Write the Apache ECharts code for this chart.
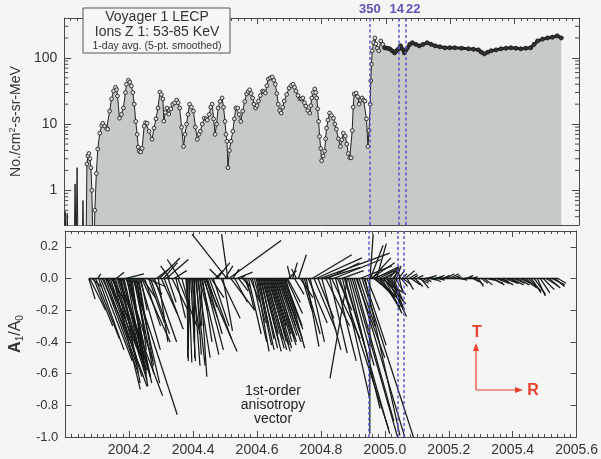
<!DOCTYPE html>
<html><head><meta charset="utf-8">
<script src="https://cdn.jsdelivr.net/npm/echarts@6/dist/echarts.min.js"></script>
<style>html,body{margin:0;padding:0;background:#f5f5f3}#c{width:601px;height:459px}</style>
</head><body><div id="c"></div>
<script>
// ---------- DATA ----------
// Flux: day counted from 2004-01-01 (day 0), values in No./cm^2-s-sr-MeV
const fluxDay = [0.5,1.1,2.2,3.4,4.5,11.2,12.3,13.5,14.6,15.7,20.2,21.3,22.4,24.7,25.8,26.9,28.0,29.2,30.3,31.4,32.5,33.7,34.8,36.5,38.1,40.4,42.6,43.7,46.0,48.2,49.4,51.6,53.8,56.1,58.3,59.5,60.6,62.8,65.0,67.3,69.6,70.7,72.9,74.6,76.3,78.0,79.6,81.3,83.0,84.1,85.3,86.9,88.6,90.9,92.5,94.2,96.5,99.8,102.1,104.3,106.6,108.8,110.5,112.2,113.3,115.0,116.7,118.9,121.2,123.4,125.7,127.9,129.6,131.3,133.5,135.7,137.4,139.1,140.8,142.5,144.7,147.0,149.2,151.4,153.1,154.8,157.0,159.3,161.5,162.7,164.9,166.6,168.3,169.9,171.6,173.3,175.0,177.2,179.5,181.2,182.9,184.0,185.1,186.2,187.9,189.6,191.8,193.5,195.2,197.4,199.1,200.8,203.0,205.3,207.5,209.2,210.9,212.6,214.3,215.9,217.6,219.3,221.0,223.2,225.5,227.1,228.8,230.5,232.2,234.5,236.7,238.4,240.1,241.8,243.5,245.1,246.8,248.5,250.2,253.0,255.8,258.0,260.3,262.0,263.6,265.9,268.1,269.8,271.5,273.2,274.8,277.1,279.3,280.5,281.6,283.3,284.9,286.1,287.2,288.3,289.4,290.5,291.7,292.8,294.5,296.2,297.3,298.4,300.1,301.8,304.0,306.3,307.9,309.6,311.9,314.1,315.8,317.5,319.7,321.4,323.1,324.8,326.4,327.6,328.7,329.8,332.0,333.7,335.4,337.1,338.8,340.5,342.1,343.8,345.5,346.7,348.0,348.7,349.5,350.3,352.0,353.4,354.5,356.2,357.9,360.1,362.3,364.6,367.4,370.2,373.0,375.8,378.0,380.3,382.5,384.8,387.0,388.7,390.4,393.2,396.0,399.9,403.9,408.3,412.8,417.3,421.8,427.4,433.0,438.6,444.2,452.1,459.9,465.6,471.2,474.5,477.9,481.8,485.7,491.3,496.9,502.6,508.2,513.8,519.4,525.0,530.6,534.5,538.5,544.1,549.7,555.3,560.9,565.4];
const fluxValue = [0.1,0.48,0.1,0.45,0.1,0.1,1.25,0.1,2.2,0.1,0.1,0.7,0.1,0.1,2.5,3.3,3.6,3.0,2.2,1.0,0.2,0.1,0.5,1.8,4.2,7.3,9.5,10.3,9.3,8.6,8.4,15.7,24,31.6,36,33,26.6,12.3,14,17.5,30,40,46,43,37.7,30,20,11,7,4.5,3.9,3.8,4.3,9.3,10.5,10.3,7.8,5.9,8.7,12,17.5,30.5,28,24,11.1,15,17.5,14.2,17,20,21,23,21,17.5,9,4.6,7,10,14,20,18,15.7,9,5.9,7,7.8,10,12.3,12,11.5,14,18,20,12,7,10,17.5,22,24.8,18,11,7,5.5,2.2,4,5.5,7.8,12,17.5,17.5,14,11,15.7,22,28.5,31,33,29,24.8,20,17.5,19,22.3,27,31.6,31,29.5,38,48,50,51.5,46,40,29,20,16,14.7,18,22.3,28,35,38,40,36,31.6,27,24,24,24.8,21,18.7,16,14.7,19,24.8,30,34,30,24.8,17,11,6.5,4.3,2.8,3.3,3.9,6,8.7,11.5,14.7,13.5,12.3,10,8.4,6,4.6,5.8,7.3,6.6,5,3.6,3.1,3.1,8,18,28.5,29.5,26,20,23,24.8,23,22.3,12,4.6,8,20,45,80,128,170,200,163,140,128,180,160,142,140,137,128,119,128,137,152,135,119,130,142,160,169,160,152,160,169,160,152,147,142,142,142,140,137,135,132,122,115,122,128,132,137,140,142,140,137,140,142,160,180,192,200,205,215,200];
const denseFromDay = 364.6;   // after this the 1-day points merge into a thick trace
const markerFromDay = 25;     // earliest spikes have no point markers

// Anisotropy vectors: start day, radial (R) and tangential (T) components of A1/A0
const vecDay = [
 26.9,28.0,30.3,32.5,34.8,37.0,38.1,40.4,42.6,43.8,46.0,47.1,48.2,49.4,51.6,52.7,53.8,55.0,56.1,57.2,58.3,59.5,60.6,61.7,62.8,63.9,65.1,66.2,67.3,68.4,69.6,70.7,71.8,72.9,74.0,75.2,76.3,77.4,78.5,79.6,80.8,81.9,83.0,84.1,85.3,86.4,87.5,88.6,90.9,93.1,
 95.4,97.6,99.8,102.1,104.3,106.6,107.7,109.9,112.2,113.3,115.5,117.8,120.0,122.3,124.5,126.8,129.0,131.3,133.5,
 138.0,139.1,140.2,141.3,142.5,143.6,144.7,145.8,147.0,148.1,149.2,150.3,151.4,152.6,153.7,154.8,155.9,157.1,158.2,159.3,160.4,161.5,162.7,164.9,167.1,169.4,171.6,173.9,176.1,178.4,180.6,182.9,185.1,186.2,187.3,189.6,191.8,194.1,196.3,198.6,200.8,203.0,
 205.3,207.5,209.8,212.0,214.3,216.5,218.8,219.9,221.0,222.1,223.2,224.4,225.5,226.6,227.7,228.8,230.0,231.1,232.2,233.3,234.5,235.6,236.7,237.8,238.9,240.1,241.2,242.3,243.4,244.6,245.7,246.8,247.9,249.0,250.2,251.3,252.4,253.5,254.6,255.8,258.0,260.3,262.5,264.7,267.0,269.2,
 271.5,273.7,276.0,278.2,280.5,282.7,284.9,287.2,289.4,291.7,293.9,296.2,298.4,300.6,302.9,305.1,307.4,309.6,311.9,314.1,316.3,317.5,319.7,320.8,323.1,324.2,326.4,328.7,330.9,333.2,334.3,336.5,337.7,339.9,342.1,343.3,345.5,348.8,349.0,349.5,350.0,351.1,352.2,
 353.4,354.5,355.6,356.7,357.9,359.0,360.1,361.2,362.3,363.5,364.6,365.7,366.8,367.9,369.1,370.2,371.3,372.4,373.6,374.7,375.8,376.9,378.0,
 379.2,380.3,381.4,382.5,383.7,384.8,385.9,387.0,
 389.3,391.5,393.7,396.0,398.2,400.5,402.7,405.0,407.2,409.5,411.7,413.9,416.2,418.4,420.7,422.9,425.2,427.4,
 429.6,433.0,436.4,439.7,443.1,446.5,449.8,453.2,456.6,459.9,463.3,466.7,470.0,473.4,476.8,480.1,483.5,486.9,490.2,493.6,497.0,500.3,503.7,507.1,510.4,513.8,517.1,520.5,523.9,527.2,530.6,534.0,537.3,540.7,544.1,547.4,550.8,554.2,557.5,560.9,564.3];
const vecR = [
 0.04,0.10,0.06,0.12,0.15,0.02,0.16,0.20,0.18,0.22,0.20,0.12,0.25,0.18,0.20,0.09,0.22,0.17,0.14,0.20,0.05,0.17,0.28,0.13,0.19,0.12,0.16,0.10,0.14,0.12,0.17,0.11,0.15,0.09,0.13,0.08,0.10,0.28,0.07,0.12,0.15,0.06,0.10,0.05,0.13,0.04,0.18,0.08,0.10,0.12,
 0.10,0.12,0.06,0.14,0.08,0.06,0.13,0.10,0.09,0.12,0.14,0.05,-0.06,0.10,0.08,0.06,0.12,-0.08,0.05,
 0.03,0.01,0.00,0.02,-0.01,0.03,0.05,0.01,0.04,0.00,0.06,0.03,0.08,0.02,0.05,0.04,0.11,0.06,0.09,0.12,0.20,0.10,0.06,0.14,0.08,0.10,0.05,0.08,-0.06,0.12,0.06,0.05,-0.22,-0.04,0.33,0.15,0.04,0.08,0.10,0.06,0.03,0.05,
 0.04,0.05,0.08,0.06,0.09,0.07,0.08,0.09,0.10,0.06,0.11,0.08,0.12,0.10,0.09,0.12,0.13,0.10,0.14,0.11,0.12,0.13,0.09,0.12,0.14,0.10,0.13,0.11,0.12,0.14,0.10,0.12,0.13,0.09,0.12,0.11,0.12,0.10,0.08,0.05,-0.02,0.03,0.06,-0.03,0.05,0.08,
 0.06,0.10,0.08,0.12,0.09,0.25,0.14,0.29,0.10,0.44,0.12,0.23,0.15,0.20,0.11,0.18,0.30,0.13,0.09,0.31,0.14,0.17,0.12,0.28,-0.11,0.20,0.15,0.30,0.25,0.18,0.33,0.10,0.20,0.35,0.14,0.22,0.08,0.00,0.02,0.08,0.15,0.12,0.16,
 0.10,0.14,0.12,0.06,0.15,0.10,0.13,0.16,0.12,0.08,0.14,0.11,0.09,0.10,0.12,0.08,0.06,0.09,0.05,0.04,0.06,0.03,0.05,
 0.03,-0.03,0.04,0.02,-0.02,0.04,0.03,0.05,
 0.06,0.04,0.05,0.06,0.03,0.05,0.04,0.06,0.05,0.04,0.05,0.03,0.05,0.04,0.06,0.04,0.05,0.04,
 0.05,0.04,0.05,0.06,0.05,0.04,0.05,0.04,0.05,0.04,0.05,0.04,0.05,0.03,0.04,0.05,0.04,0.08,0.07,0.08,0.06,0.07,0.08,0.07,0.08,0.07,0.08,0.07,0.08,0.07,0.08,0.06,0.07,0.05,0.06,0.07,0.08,0.07,0.08,0.06,0.05];
const vecT = [
 -0.13,-0.20,-0.05,-0.30,-0.38,0.03,-0.45,-0.52,-0.40,-0.60,-0.55,-0.25,-0.68,-0.44,-0.62,-0.15,-0.58,-0.70,-0.50,-0.64,0.04,-0.56,-0.74,-0.48,-0.62,-0.66,-0.55,-0.45,-0.60,0.03,-0.52,-0.58,-0.66,-0.40,-0.62,-0.52,-0.68,-0.86,-0.35,-0.60,-0.66,-0.45,-0.55,-0.30,-0.45,-0.20,-0.40,-0.12,-0.30,-0.05,
 -0.28,-0.35,-0.10,-0.40,0.06,-0.40,0.13,-0.22,0.10,-0.32,0.12,-0.15,0.08,-0.20,0.05,-0.25,-0.30,0.12,-0.18,
 -0.30,-0.52,-0.50,-0.53,-0.45,-0.52,-0.35,-0.40,-0.55,-0.50,-0.55,-0.48,-0.50,-0.30,-0.20,-0.62,-0.48,-0.40,-0.25,-0.45,-0.46,-0.35,-0.18,-0.38,-0.12,-0.30,0.05,0.10,0.06,-0.25,-0.33,0.08,0.28,0.28,0.24,-0.20,0.06,-0.15,0.04,-0.08,0.02,-0.05,
 -0.10,-0.20,-0.35,-0.15,-0.40,-0.28,-0.46,-0.42,-0.45,-0.30,-0.44,-0.38,-0.46,-0.40,-0.35,-0.44,-0.45,-0.38,-0.46,-0.40,-0.42,-0.44,-0.30,-0.40,-0.42,-0.35,-0.40,-0.38,-0.36,-0.40,-0.30,-0.34,-0.38,-0.25,-0.32,-0.30,-0.44,-0.22,-0.15,0.05,0.08,0.10,-0.10,0.06,0.15,-0.12,
 -0.20,-0.35,-0.43,-0.28,-0.40,0.15,-0.33,0.13,-0.25,0.16,-0.45,0.07,-0.30,0.10,-0.47,-0.38,0.12,-0.52,-0.20,-0.95,0.05,-0.75,-0.40,-0.98,-0.63,-0.82,-0.55,-1.05,-0.90,-0.50,-1.10,-0.30,0.08,-1.08,-0.42,-0.99,-0.20,-0.98,0.28,0.21,0.10,0.13,0.06,
 -0.08,0.07,-0.12,0.22,-0.15,0.05,-0.18,-0.10,-0.20,0.04,-0.16,-0.22,0.06,-0.18,-0.24,-0.12,0.08,-0.20,-0.10,0.05,-0.14,0.07,-0.08,
 0.08,-0.06,0.05,-0.08,0.06,-0.05,0.03,-0.04,
 0.05,-0.07,0.03,-0.04,0.02,-0.05,0.02,-0.03,-0.06,-0.02,0.01,-0.02,0.02,-0.01,0.01,-0.02,0.02,-0.01,
 0.01,0.02,0.03,0.03,0.02,0.01,0.00,-0.01,0.01,0.02,0.01,-0.02,-0.04,-0.05,-0.03,-0.04,-0.01,-0.03,-0.04,-0.03,-0.02,-0.04,-0.03,-0.03,-0.04,-0.03,-0.04,-0.03,-0.05,-0.06,-0.08,-0.09,-0.10,-0.11,-0.09,-0.07,-0.05,-0.06,-0.04,-0.05,-0.03];

// Event markers (day-of-year labels) in decimal years
const eventYear = [2004.954, 2005.036, 2005.058];
const eventLabel = ['350', '14', '22'];
// Log-axis minor tick values
const logMinorTicks = [0.4,0.5,0.6,0.7,0.8,0.9,2,3,4,5,6,7,8,9,20,30,40,50,60,70,80,90,200,300];
const xMin = 2004.0, xMax = 2005.6, xStep = 0.2;
const fluxMin = 0.3, fluxMax = 400;
const anisoMin = -1.0, anisoMax = 0.3, anisoStep = 0.2;

// ---------- CHART ----------
const toYear = d => 2004 + d / 366;
const FONT = '"Liberation Sans", Arial, Helvetica, sans-serif';
const AX = '#4a4a4a';
const flux = fluxDay.map((d, i) => [toYear(d), fluxValue[i], d]);
const fluxB = flux.filter(p => p[2] >= denseFromDay);
const nVec = Math.min(vecDay.length, vecR.length, vecT.length);
const vectors = [];
for (let i = 0; i < nVec; i++) vectors.push([toYear(vecDay[i]), vecR[i], vecT[i]]);

const eventLineStyle = { color: '#5b58cf', width: 1.5, type: [3, 2.5] };
const labelOffsets = [[0, 0], [-2, 0], [8, 0]];

function xAxisDef(grid, pos, labels, ticks) {
  return {
    type: 'value', gridIndex: grid, position: pos, min: xMin, max: xMax, interval: xStep,
    axisLine: { show: true, onZero: false, lineStyle: { color: AX, width: 1 } },
    axisTick: { show: ticks, inside: true, length: 6, lineStyle: { color: AX } },
    minorTick: { show: ticks, splitNumber: 10, length: 3, lineStyle: { color: AX } },
    splitLine: { show: false },
    axisLabel: {
      show: labels, color: '#333', fontSize: 14, fontFamily: FONT, margin: 6,
      formatter: v => (Math.abs(v - xMin) < 1e-6 ? '' : v.toFixed(1))
    }
  };
}

const isDecade = v => Math.abs(Math.log10(v) - Math.round(Math.log10(v))) < 1e-6;

const option = {
  backgroundColor: '#f5f5f3',
  animation: false,
  grid: [
    { left: 57, right: 22, top: 18, height: 207 },
    { left: 57, right: 22, top: 231, height: 206 }
  ],
  xAxis: [
    xAxisDef(0, 'bottom', false, false),
    xAxisDef(0, 'top', false, true),
    xAxisDef(1, 'bottom', true, true),
    xAxisDef(1, 'top', false, true)
  ],
  yAxis: [
    {
      type: 'log', logBase: 10, gridIndex: 0, min: fluxMin, max: fluxMax, position: 'left',
      axisLine: { show: true, lineStyle: { color: AX } },
      axisTick: { show: true, inside: true, length: 7, lineStyle: { color: AX } },
      splitLine: { show: false },
      axisLabel: { color: '#333', fontSize: 14, fontFamily: FONT, margin: 7,
        formatter: v => (isDecade(v) ? String(Math.round(v)) : '') },
      name: 'No./cm{sup|2}-s-sr-MeV', nameLocation: 'middle', nameRotate: 90, nameGap: 32,
      nameTextStyle: { color: '#333', fontSize: 14, fontFamily: FONT,
        rich: { sup: { fontSize: 9, fontFamily: FONT, color: '#333', padding: [0, 0, 7, 0] } } }
    },
    {
      type: 'log', logBase: 10, gridIndex: 0, min: fluxMin, max: fluxMax, position: 'right',
      axisLine: { show: true, lineStyle: { color: AX } },
      axisTick: { show: true, inside: true, length: 7, lineStyle: { color: AX } },
      splitLine: { show: false }, axisLabel: { show: false }
    },
    {
      type: 'value', gridIndex: 1, min: anisoMin, max: anisoMax, interval: anisoStep, position: 'left',
      axisLine: { show: true, onZero: false, lineStyle: { color: AX } },
      axisTick: { show: true, inside: true, length: 6, lineStyle: { color: AX } },
      splitLine: { show: false },
      axisLabel: { color: '#333', fontSize: 13, fontFamily: FONT, margin: 7,
        formatter: v => (Math.abs(v * 5 - Math.round(v * 5)) < 1e-6 ? v.toFixed(1) : '') },
      name: '{b|A}{s|1}{n|/A}{s|0}', nameLocation: 'middle', nameRotate: 90, nameGap: 36,
      nameTextStyle: { color: '#333', fontFamily: FONT,
        rich: {
          b: { fontSize: 16, fontWeight: 'bold', fontFamily: FONT, color: '#333' },
          n: { fontSize: 16, fontFamily: FONT, color: '#333' },
          s: { fontSize: 10, fontFamily: FONT, color: '#333', padding: [8, 0, 0, 0] }
        } }
    },
    {
      type: 'value', gridIndex: 1, min: anisoMin, max: anisoMax, interval: anisoStep, position: 'right',
      axisLine: { show: true, onZero: false, lineStyle: { color: AX } },
      axisTick: { show: true, inside: true, length: 6, lineStyle: { color: AX } },
      splitLine: { show: false }, axisLabel: { show: false }
    }
  ],
  series: [
    {
      type: 'line', xAxisIndex: 0, yAxisIndex: 0, data: flux, clip: true,
      showAllSymbol: true, symbolSize: 3.8,
      symbol: (val) => (val[2] < markerFromDay || val[2] > denseFromDay || val[1] < fluxMin ? 'none' : 'circle'),
      itemStyle: { color: '#dcdedc', borderColor: '#222', borderWidth: 0.9 },
      lineStyle: { color: '#222', width: 1 },
      areaStyle: { color: '#c5cac6', opacity: 1, origin: 'start' },
      z: 3,
      markLine: {
        silent: true, symbol: 'none', lineStyle: eventLineStyle,
        label: { show: true, position: 'end', distance: 2, color: '#6152b8', fontWeight: 'bold',
          fontSize: 13, fontFamily: FONT },
        data: eventYear.map((x, i) => ({ xAxis: x, label: { formatter: eventLabel[i], offset: labelOffsets[i] } }))
      }
    },
    {
      type: 'line', xAxisIndex: 0, yAxisIndex: 0, data: fluxB, clip: true,
      showAllSymbol: true, symbol: 'circle', symbolSize: 4,
      itemStyle: { color: '#333', borderColor: '#222', borderWidth: 1 },
      lineStyle: { color: '#222', width: 3 },
      z: 4
    },
    {
      type: 'custom', xAxisIndex: 0, yAxisIndex: 0, clip: false, silent: true, z: 4,
      data: logMinorTicks.map(v => [xMin, v]),
      renderItem: (params, api) => {
        const cs = params.coordSys;
        const y = api.coord([xMin, api.value(1)])[1];
        return { type: 'group', children: [
          { type: 'line', shape: { x1: cs.x, y1: y, x2: cs.x + 4, y2: y }, style: { stroke: AX, lineWidth: 1 } },
          { type: 'line', shape: { x1: cs.x + cs.width, y1: y, x2: cs.x + cs.width - 4, y2: y }, style: { stroke: AX, lineWidth: 1 } }
        ] };
      }
    },
    {
      type: 'custom', xAxisIndex: 2, yAxisIndex: 2, clip: true, silent: true, z: 3,
      data: vectors,
      encode: { x: 0, y: 2 },
      renderItem: (params, api) => {
        const s = api.coord([api.value(0), 0]);
        const unit = api.size([0, 1])[1];
        return { type: 'line',
          shape: { x1: s[0], y1: s[1], x2: s[0] + api.value(1) * unit, y2: s[1] - api.value(2) * unit },
          style: { stroke: '#131a17', lineWidth: 1.25 } };
      }
    },
    {
      type: 'line', xAxisIndex: 2, yAxisIndex: 2, symbol: 'none', z: 4,
      data: [[vectors[0][0], 0], [vectors[nVec - 1][0], 0]],
      lineStyle: { color: '#131a17', width: 1.4 },
      markLine: {
        silent: true, symbol: 'none', lineStyle: eventLineStyle, label: { show: false },
        data: eventYear.map(x => ({ xAxis: x }))
      }
    }
  ],
  graphic: [
    { type: 'rect', shape: { x: 83, y: 8, width: 147, height: 45 },
      style: { fill: '#f7f7f5', stroke: '#555', lineWidth: 1 }, z: 100 },
    { type: 'text', x: 157, y: 17, z: 101,
      style: { text: 'Voyager 1 LECP', fontSize: 14, fontFamily: FONT, fill: '#333', align: 'center', verticalAlign: 'middle' } },
    { type: 'text', x: 157, y: 32, z: 101,
      style: { text: 'Ions Z 1: 53-85 KeV', fontSize: 14, fontFamily: FONT, fill: '#333', align: 'center', verticalAlign: 'middle' } },
    { type: 'text', x: 157, y: 46, z: 101,
      style: { text: '1-day avg. (5-pt. smoothed)', fontSize: 10.5, fontFamily: FONT, fill: '#333', align: 'center', verticalAlign: 'middle' } },
    { type: 'text', x: 273, y: 405, z: 101,
      style: { text: '1st-order\nanisotropy\nvector', fontSize: 14, lineHeight: 14, fontFamily: FONT, fill: '#222', align: 'center', verticalAlign: 'middle' } },
    { type: 'line', shape: { x1: 476, y1: 390, x2: 476, y2: 350 }, style: { stroke: '#e8402e', lineWidth: 1.2 }, z: 101 },
    { type: 'polygon', shape: { points: [[476, 343], [473, 351], [479, 351]] }, style: { fill: '#e8402e' }, z: 101 },
    { type: 'line', shape: { x1: 476, y1: 390, x2: 516, y2: 390 }, style: { stroke: '#e8402e', lineWidth: 1.2 }, z: 101 },
    { type: 'polygon', shape: { points: [[523, 390], [515, 387], [515, 393]] }, style: { fill: '#e8402e' }, z: 101 },
    { type: 'text', x: 477, y: 333, z: 101,
      style: { text: 'T', fontSize: 16, fontWeight: 'bold', fontFamily: FONT, fill: '#e8402e', align: 'center', verticalAlign: 'middle' } },
    { type: 'text', x: 533, y: 391, z: 101,
      style: { text: 'R', fontSize: 16, fontWeight: 'bold', fontFamily: FONT, fill: '#e8402e', align: 'center', verticalAlign: 'middle' } }
  ]
};

const chart = echarts.init(document.getElementById('c'), null, { renderer: 'canvas' });
chart.setOption(option);
</script>
</body></html>
